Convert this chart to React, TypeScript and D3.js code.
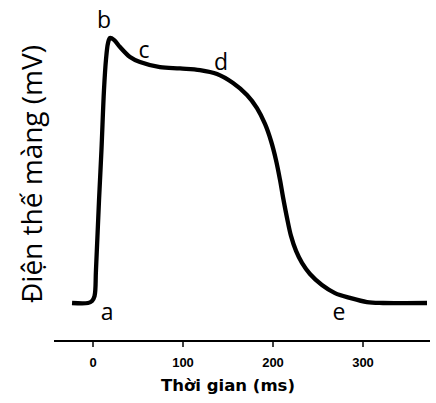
import React from 'react';
import * as d3 from 'd3';

// action potential trace (time in ms, potential in mV)
const timeMs = [-23.3, -5.6, -1.1, 1.7, 3.3, 6.7, 9.4, 12.2, 14.4, 16.7, 18.9, 23.3, 30, 41.1, 52.2, 74.4, 96.7, 118.9, 137.8, 155.6, 171.1, 182.2, 191.1, 197.8, 203.3, 207.8, 211.1, 215.6, 220, 225.6, 232.2, 241.1, 254.4, 268.9, 285.6, 304.4, 322.2, 371.1];
const potentialMv = [-85, -85, -84.1, -82, -70.7, -40.3, -18.6, 7.4, 20.5, 27.8, 30, 29.2, 26.1, 21.8, 19.6, 17.4, 16.8, 16.1, 14.4, 10.5, 5.3, -0.4, -7.3, -14.7, -22.9, -31.6, -39, -48.1, -55.9, -62.4, -67.6, -72.4, -77.2, -80.7, -82.8, -84.6, -85, -85];

const xTicks = [0, 100, 200, 300];

// phase letters and where they sit (ms, mV)
const phaseNames = ['a', 'b', 'c', 'd', 'e'];
const phaseMs = [15.6, 12.2, 56.7, 142.2, 273.3];
const phaseMv = [-92.4, 34.4, 21.3, 16.1, -92.4];

const W = 436;
const H = 403;

const App: React.FC = () => {
  const x = d3.scaleLinear().domain([0, 100]).range([93, 183]);
  const y = d3.scaleLinear().domain([-85, 30]).range([303, 38]);

  const pts = timeMs.map((t, i) => [t, potentialMv[i]] as [number, number]);
  const line = d3.line<[number, number]>()
    .x(d => x(d[0]))
    .y(d => y(d[1]))
    .curve(d3.curveCatmullRom.alpha(0.5));

  const axisY = 341;
  const [x0, x1] = [x.invert(54), x.invert(430)];

  return (
    <svg width={W} height={H} style={{ position: 'absolute', left: 0, top: 0, background: '#fff' }}>
      {/* trace */}
      <path d={line(pts) || ''} fill="none" stroke="#000" strokeWidth={4.3} strokeLinejoin="round" />

      {/* phase letters */}
      {phaseNames.map((n, i) => (
        <text key={n} x={x(phaseMs[i])} y={y(phaseMv[i])} textAnchor="middle"
          fontFamily="'Open Sans', sans-serif" fontSize={23} fill="#000">{n}</text>
      ))}

      {/* x axis */}
      <line x1={x(x0)} x2={x(x1)} y1={axisY} y2={axisY} stroke="#000" strokeWidth={2} />
      {xTicks.map(t => (
        <g key={t} transform={`translate(${x(t)},${axisY})`}>
          <line y1={0} y2={6} stroke="#000" strokeWidth={1.5} />
          <text y={26} textAnchor="middle" fontFamily="'Liberation Sans', Arial, sans-serif"
            fontWeight="bold" fontSize={13} fill="#000">{t}</text>
        </g>
      ))}
      <text x={228} y={391} textAnchor="middle" fontFamily="'DejaVu Sans', sans-serif"
        fontWeight="bold" fontSize={16.5} fill="#000">Thời gian (ms)</text>

      {/* y label */}
      <text transform={`translate(42,174) rotate(-90)`} textAnchor="middle"
        fontFamily="'Open Sans', sans-serif" fontSize={28} fill="#000">Điện thế màng (mV)</text>
    </svg>
  );
};

export default App;
